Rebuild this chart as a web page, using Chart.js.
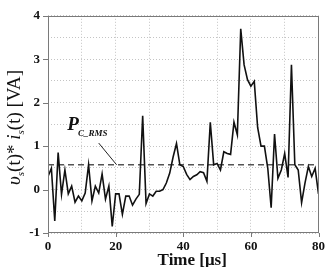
<!DOCTYPE html>
<html><head><meta charset="utf-8">
<script src="https://cdn.jsdelivr.net/npm/chart.js"></script>
<style>html,body{margin:0;padding:0;background:#fff;overflow:hidden}#c{display:block}</style>
</head><body>
<canvas id="c" width="331" height="267"></canvas>
<script>
const timeUs = [0,1,2,3,4,5,6,7,8,9,10,11,12,13,14,15,16,17,18,19,20,21,22,23,24,25,26,27,28,29,30,31,32,33,34,35,36,37,38,39,40,41,42,43,44,45,46,47,48,49,50,51,52,53,54,55,56,57,58,59,60,61,62,63,64,65,66,67,68,69,70,71,72,73,74,75,76,77,78,79,80];
const powerVA = [0.3,0.49,-0.72,0.85,-0.11,0.45,-0.1,0.08,-0.29,-0.15,-0.26,-0.08,0.57,-0.26,0.08,-0.08,0.36,-0.22,0.08,-0.85,-0.1,-0.1,-0.57,-0.15,-0.15,-0.36,-0.22,-0.11,1.7,-0.32,-0.1,-0.15,-0.04,-0.04,0,0.15,0.38,0.75,1.06,0.57,0.53,0.35,0.23,0.3,0.34,0.41,0.39,0.19,1.55,0.57,0.6,0.45,0.87,0.83,0.81,1.55,1.26,3.7,2.87,2.53,2.38,2.49,1.43,1.0,1.0,0.49,-0.42,1.28,0.26,0.45,0.83,0.28,2.87,0.57,0.45,-0.3,0.15,0.53,0.3,0.49,-0.1];
const pcRms = 0.57;
const xTicks = [0,20,40,60,80];
const yTicks = [-1,0,1,2,3,4];
const xTitle = 'Time [μs]';
const annotLabel = ['P', 'C_RMS'];

const SERIF = '"Liberation Serif","DejaVu Serif",serif';

const extras = {
  id: 'extras',
  afterDraw(chart) {
    const ctx = chart.ctx;
    const a = chart.chartArea;
    const xs = chart.scales.x, ys = chart.scales.y;
    ctx.save();
    // frame
    ctx.strokeStyle = '#7a7a7a';
    ctx.lineWidth = 1;
    ctx.strokeRect(Math.round(a.left) + 0.5, Math.round(a.top) + 0.5, Math.round(a.right - a.left) - 1, Math.round(a.bottom - a.top) - 1);
    // tick marks
    ctx.beginPath();
    yTicks.forEach(v => {
      const p = Math.round(ys.getPixelForValue(v)) + 0.5;
      ctx.moveTo(a.left - 5, p); ctx.lineTo(a.left, p);
    });
    xTicks.forEach(v => {
      const p = Math.round(xs.getPixelForValue(v)) + 0.5;
      ctx.moveTo(p, a.bottom); ctx.lineTo(p, a.bottom + 4);
    });
    ctx.stroke();

    // y title with subscripts
    const parts = [
      {t: 'υ', f: 'italic 19px ' + SERIF, dy: 0},
      {t: 's', f: 'italic 11px ' + SERIF, dy: 4},
      {t: '(t)*', f: '19px ' + SERIF, dy: 0},
      {t: ' ', f: '19px ' + SERIF, dy: 0},
      {t: 'i', f: 'italic 19px ' + SERIF, dy: 0},
      {t: 's', f: 'italic 11px ' + SERIF, dy: 4},
      {t: '(t) [VA]', f: '19px ' + SERIF, dy: 0}
    ];
    let total = 0;
    parts.forEach(p => { ctx.font = p.f; p.w = ctx.measureText(p.t).width; total += p.w; });
    ctx.translate(20, (a.top + a.bottom) / 2 + 3);
    ctx.rotate(-Math.PI / 2);
    ctx.fillStyle = '#111';
    ctx.textBaseline = 'alphabetic';
    ctx.textAlign = 'left';
    let cx = -total / 2;
    parts.forEach(p => { ctx.font = p.f; ctx.fillText(p.t, cx, p.dy); cx += p.w; });
    ctx.restore();

    ctx.save();
    // x title
    ctx.fillStyle = '#111';
    ctx.font = 'bold 17px ' + SERIF;
    ctx.textAlign = 'center';
    ctx.textBaseline = 'alphabetic';
    ctx.fillText(xTitle, (a.left + a.right) / 2 + 9, 265);

    // annotation P_C_RMS
    const px = xs.getPixelForValue(5.7), py = ys.getPixelForValue(1.36);
    ctx.textAlign = 'left';
    ctx.font = 'italic bold 19px ' + SERIF;
    ctx.fillText(annotLabel[0], px, py);
    const pw = ctx.measureText(annotLabel[0]).width;
    ctx.font = 'italic bold 9px ' + SERIF;
    ctx.fillText(annotLabel[1], px + pw - 1, py + 6);
    // arrow line
    ctx.strokeStyle = '#222';
    ctx.lineWidth = 1;
    ctx.beginPath();
    ctx.moveTo(xs.getPixelForValue(15), ys.getPixelForValue(1.07));
    ctx.lineTo(xs.getPixelForValue(20.3), ys.getPixelForValue(pcRms));
    ctx.stroke();
    ctx.restore();
  }
};

new Chart(document.getElementById('c'), {
  type: 'line',
  data: {
    datasets: [
      {
        data: timeUs.map((t, i) => ({x: t, y: powerVA[i]})),
        borderColor: '#111', borderWidth: 1.6, pointRadius: 0, tension: 0, fill: false
      },
      {
        data: [{x: 0, y: pcRms}, {x: 80, y: pcRms}],
        borderColor: '#555', borderWidth: 1.6, borderDash: [6, 4], pointRadius: 0, fill: false
      }
    ]
  },
  options: {
    responsive: false, animation: false, devicePixelRatio: 1,
    layout: {padding: {top: 12, right: 9, left: 0, bottom: 0}},
    plugins: {legend: {display: false}, tooltip: {enabled: false}},
    scales: {
      x: {
        type: 'linear', min: 0, max: 80,
        afterFit(s) { s.height = 34; },
        ticks: {
          stepSize: 10, maxRotation: 0, autoSkip: false, padding: 6,
          color: '#111', font: {family: SERIF, size: 13, weight: 'bold'},
          callback: v => (xTicks.includes(v) ? String(v) : '')
        },
        grid: {color: '#c4c4c4', lineWidth: 1, drawTicks: false},
        border: {display: false, dash: [1, 2]}
      },
      y: {
        type: 'linear', min: -1, max: 4,
        afterFit(s) { s.width = 48; },
        ticks: {
          stepSize: 0.5, autoSkip: false, padding: 8,
          color: '#111', font: {family: SERIF, size: 13, weight: 'bold'},
          callback: v => (yTicks.includes(v) ? String(v) : '')
        },
        grid: {color: '#c4c4c4', lineWidth: 1, drawTicks: false},
        border: {display: false, dash: [1, 2]}
      }
    }
  },
  plugins: [extras]
});
</script>
</body></html>
